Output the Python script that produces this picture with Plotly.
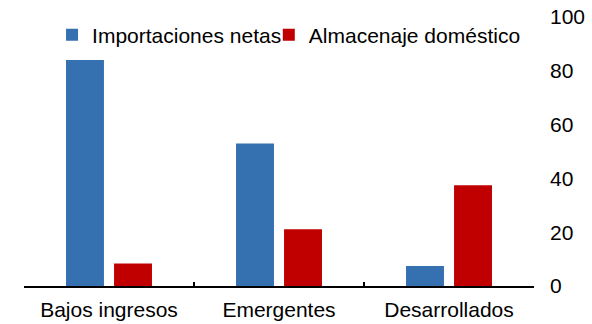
import plotly.graph_objects as go

categories = ["Bajos ingresos", "Emergentes", "Desarrollados"]
importaciones_netas = [84.0, 53.0, 7.4]
almacenaje_domestico = [8.4, 21.1, 37.5]
y_ticks = [0, 20, 40, 60, 80, 100]

BLUE = "#3570B0"
RED = "#C00000"
FONT = "Liberation Sans, Arial, sans-serif"

fig = go.Figure()
fig.add_trace(go.Bar(name="Importaciones netas", x=categories, y=importaciones_netas,
                     marker=dict(color=BLUE, line=dict(width=0)), legend="legend"))
fig.add_trace(go.Bar(name="Almacenaje doméstico", x=categories, y=almacenaje_domestico,
                     marker=dict(color=RED, line=dict(width=0)), legend="legend2"))

legend_style = dict(orientation="h", y=0.933, xanchor="left", yanchor="middle",
                    bgcolor="rgba(0,0,0,0)", font=dict(size=21), itemwidth=30)

fig.update_layout(
    width=592, height=324,
    margin=dict(l=24, r=58, t=17, b=38, autoexpand=False),
    paper_bgcolor="white", plot_bgcolor="white",
    barmode="group", bargap=0.435, bargroupgap=0.21,
    font=dict(family=FONT, size=21, color="#000000"),
    showlegend=True,
    legend=dict(x=0.055, **legend_style),
    legend2=dict(x=0.480, **legend_style),
)
fig.update_xaxes(
    type="category", showline=True, linecolor="#000000", linewidth=2,
    ticks="inside", ticklen=4, tickwidth=2, tickcolor="#000000",
    tickson="boundaries", showgrid=False, zeroline=False, automargin=False,
    tickfont=dict(size=21), ticklabelstandoff=4,
)
fig.update_yaxes(
    side="right", range=[0, 100], tickvals=y_ticks, showgrid=False,
    zeroline=False, showline=False, ticks="", tickfont=dict(size=21),
    ticklabelstandoff=15, automargin=False,
)

fig.write_html("out.html")
